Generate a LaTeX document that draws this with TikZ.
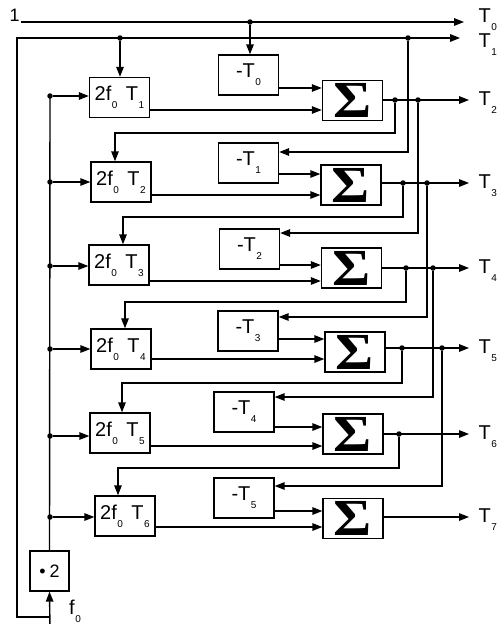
\documentclass[tikz,border=0pt]{standalone}
\usepackage{fontspec}
\setmainfont{Liberation Sans}
\newfontfamily\sigmafont{Liberation Serif}
\usetikzlibrary{arrows.meta}

% index set below the baseline, as in T_k
\newcommand\lowsub[1]{\kern0.5pt\raisebox{-8pt}{\fontsize{10}{10}\selectfont #1}}
\newcommand\bigfont{\fontsize{20}{20}\selectfont}

\begin{document}
\begin{tikzpicture}[x=1pt,y=-1pt,
  line width=1.4pt,
  arr/.style={-{Triangle[length=10pt,width=7.5pt]}},
  blk/.style={draw, line width=1.3pt, inner sep=0pt, minimum width=60pt,
              minimum height=40pt, font=\bigfont},
  sumblk/.style={blk, font=\sigmafont\bfseries\fontsize{52}{52}\selectfont},
  lab/.style={inner sep=0pt, anchor=base west, font=\bigfont},
  dot/.style={circle, fill, inner sep=0pt, minimum size=5.5pt}
]
\useasboundingbox (0,0) rectangle (497,624);

% inputs
\node[anchor=base west, inner sep=0pt, font=\fontsize{18}{18}\selectfont] (one) at (9,21) {1};
\coordinate (in0) at (21,22);
\node[lab] (f0) at (68.5,614) {f\lowsub{0}};

% multiplier blocks 2 f0 T_k
\foreach \i/\x/\y in {1/119.5/97.5, 2/121/182, 3/119/265, 4/121/349, 5/120/433, 6/125/516}
  \node[blk] (b\i) at (\x,\y) {2f\lowsub{0}\hspace{8.5pt}T\lowsub{\i}};

% negation blocks -T_k
\foreach \i/\x/\y in {0/248.5/75, 1/248.5/163, 2/249.5/249, 3/248/331, 4/244/412, 5/244/498}
  \node[blk] (m\i) at (\x,\y) {-T\lowsub{\i}};

% adders
\foreach \i/\x/\y in {1/352.5/100.5, 2/351/185, 3/351.5/268, 4/355/352, 5/353/434, 6/353/518.5}
  \node[sumblk] (s\i) at (\x,\y) {\scalebox{1.12}[1]{Σ}};

% doubler
\node[blk, minimum width=39pt, minimum height=40pt, font=\fontsize{18}{18}\selectfont]
  (dbl) at (49.5,571) {•\hspace{4pt}2};

% outputs
\coordinate (o0) at (464,22);
\coordinate (o1) at (460,38);
\node[lab] (L0) at (478,22) {T\lowsub{0}};
\node[lab] (L1) at (478,47) {T\lowsub{1}};
\foreach \i/\y in {2/100, 3/183, 4/268, 5/348, 6/434, 7/517} {
  \coordinate (o\i) at (469,\y);
  \node[lab] (L\i) at (478,\y+5) {T\lowsub{\i}};
}

% T0 = 1
\draw[arr] (in0) -- (o0);
\node[dot] (j0) at (250,22) {};
\draw[arr] (j0) -- (j0 |- m0.north);

% T1 = f0
\coordinate (fin) at (50,630);
\coordinate (lc) at (17,617);
\coordinate (tc) at (17,38);
\draw[arr] (fin) -- (dbl.south);
\draw[arr] (fin |- lc) -- (lc) -- (tc) -- (o1);
\node[dot] (j1) at (120,38) {};
\draw[arr] (j1) -- (j1 |- b1.north);
\node[dot] (j1b) at (408,38) {};
\draw[arr] (j1b) |- (m1.east |- 0,152);

% 2 f0 rail
\draw (dbl.north) -- (50,96);
\foreach \i/\y in {1/96, 2/182, 3/266, 4/349, 5/436, 6/517} {
  \node[dot] (r\i) at (50,\y) {};
  \draw[arr] (r\i) -- (b\i.west |- r\i);
}

% adder inputs
\foreach \i/\k/\u/\l in {1/0/88/110, 2/1/174/195, 3/2/265/281, 4/3/339/359, 5/4/427/446, 6/5/511/527} {
  \draw[arr] (m\k.east |- 0,\u) -- (s\i.west |- 0,\u);
  \draw[arr] (b\i.east |- 0,\l) -- (s\i.west |- 0,\l);
}

% adder outputs
\foreach \i/\j/\y in {1/2/100, 2/3/183, 3/4/268, 4/5/348, 5/6/434, 6/7/517}
  \draw[arr] (s\i.east |- 0,\y) -- (o\j);

% feedback of T_{k+1} to the next multiplier
\foreach \i/\j/\yo/\x/\yf/\xb in {1/2/100/395/133/115, 2/3/183/403/217/123,
    3/4/268/406/302/125, 4/5/348/402/383/122, 5/6/434/399/468/118} {
  \node[dot] (a\i) at (\x,\yo) {};
  \coordinate (fa\i) at (\xb,\yf);
  \draw[arr] (a\i) |- (fa\i) -- (fa\i |- b\j.north);
}

% feedback of T_{k+1} to the next negation
\foreach \i/\j/\yo/\x/\ym in {1/2/100/418/233, 2/3/183/427/317, 3/4/268/433/397, 4/5/348/442/486} {
  \node[dot] (n\i) at (\x,\yo) {};
  \draw[arr] (n\i) |- (m\j.east |- 0,\ym);
}
\end{tikzpicture}
\end{document}
